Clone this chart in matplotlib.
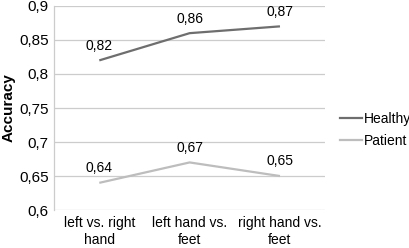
import matplotlib
matplotlib.use("Agg")
import matplotlib.pyplot as plt
from matplotlib.lines import Line2D

categories = ["left vs. right\nhand", "left hand vs.\nfeet", "right hand vs.\nfeet"]
healthy = [0.82, 0.86, 0.87]
patient = [0.64, 0.67, 0.65]
yticks = [0.6, 0.65, 0.7, 0.75, 0.8, 0.85, 0.9]

plt.rcParams['font.family'] = ['Liberation Sans', 'DejaVu Sans']

fig = plt.figure(figsize=(4.1, 2.48), dpi=100)
ax = fig.add_axes([0.132, 0.153, 0.661, 0.823])

x = list(range(len(categories)))
c_h = "#6e6e6e"
c_p = "#bdbdbd"
ax.plot(x, healthy, color=c_h, lw=1.6, label="Healthy", solid_capstyle="butt")
ax.plot(x, patient, color=c_p, lw=1.6, label="Patient", solid_capstyle="butt")

for series in (healthy, patient):
    for xi, v in zip(x, series):
        ax.annotate(f"{v:.2f}".replace(".", ","), (xi, v), xytext=(0, 10.5), textcoords="offset points",
                    ha="center", va="center", fontsize=10, color="black")

ax.set_xlim(-0.5, len(categories) - 0.5)
ax.set_ylim(0.6, 0.9)
ax.set_yticks(yticks)
ax.set_yticklabels([f"{t:g}".replace(".", ",") for t in yticks], fontsize=11)
ax.set_xticks(x)
ax.set_xticklabels(categories, fontsize=10, linespacing=1.3)
ax.tick_params(axis="y", length=0, pad=4)
ax.tick_params(axis="x", length=0, pad=4)
ax.grid(axis="y", color="#cccccc", lw=0.9)
ax.set_axisbelow(True)
for s in ["top", "right", "bottom"]:
    ax.spines[s].set_visible(False)
ax.spines["left"].set_color("#cccccc")
ax.spines["left"].set_linewidth(0.9)
ax.set_ylabel("Accuracy", fontsize=11, fontweight="bold", va="center")
ax.yaxis.set_label_coords(-0.168, 0.5)

leg = fig.legend(handles=[Line2D([], [], color=c_h, lw=1.6), Line2D([], [], color=c_p, lw=1.6)],
                 labels=["Healthy", "Patient"], loc="center left", bbox_to_anchor=(340 / 410, 1 - 130 / 248),
                 frameon=False, fontsize=10, handlelength=1.6, handletextpad=0.1, labelspacing=0.58,
                 borderpad=0, borderaxespad=0)

fig.savefig("out.png", dpi=100)
